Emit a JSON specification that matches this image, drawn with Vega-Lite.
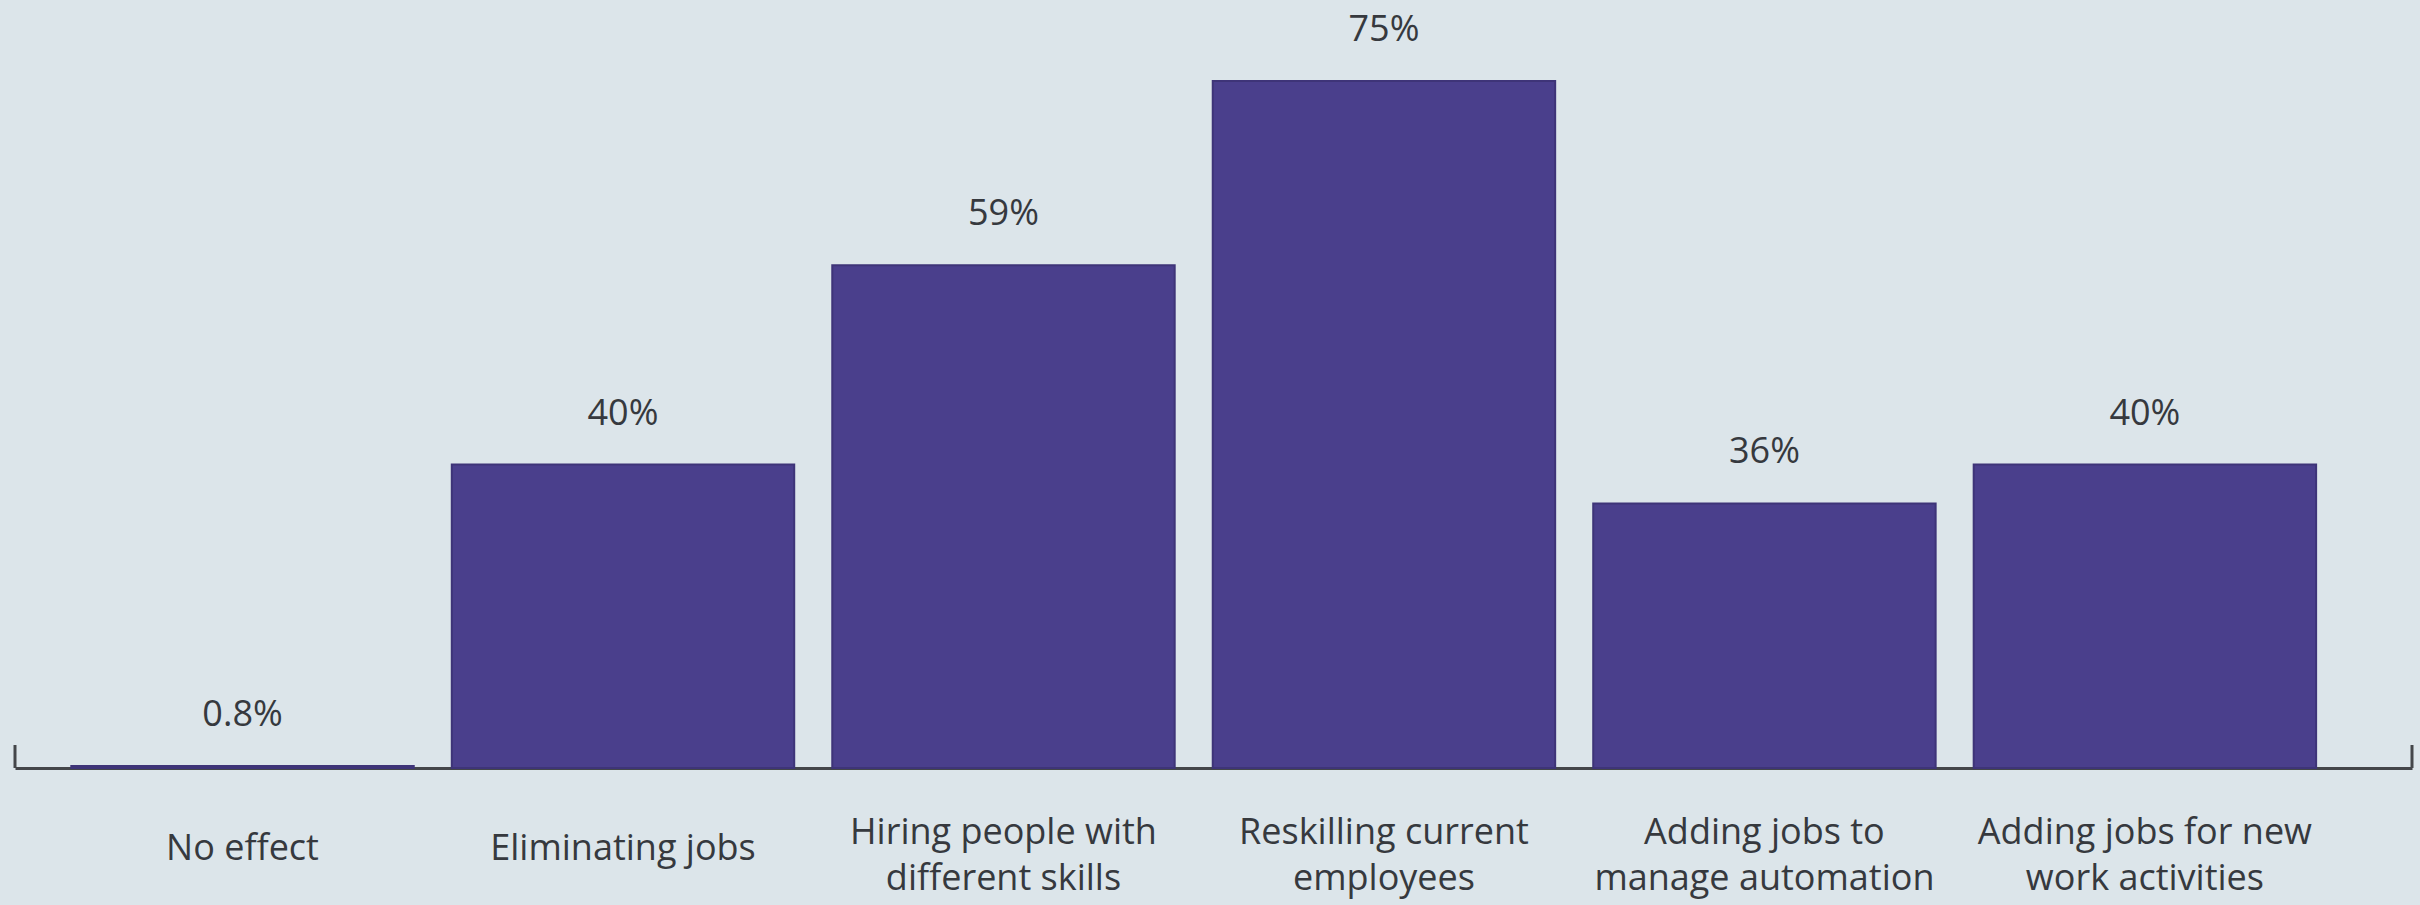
{
  "$schema": "https://vega.github.io/schema/vega-lite/v6.json",
  "width": 2397,
  "height": 747,
  "autosize": {"type": "none"},
  "padding": {"left": 15, "top": 21, "right": 8, "bottom": 137},
  "background": "#dce5ea",
  "config": {"view": {"stroke": null}, "font": "Open Sans"},
  "layer": [
    {
      "data": {
        "values": [
          {"category": "No effect", "value": 0.8, "label": "0.8%"},
          {"category": "Eliminating jobs", "value": 40, "label": "40%"},
          {"category": "Hiring people with|different skills", "value": 59, "label": "59%"},
          {"category": "Reskilling current|employees", "value": 75, "label": "75%"},
          {"category": "Adding jobs to|manage automation", "value": 36, "label": "36%"},
          {"category": "Adding jobs for new|work activities", "value": 40, "label": "40%"}
        ]
      },
      "encoding": {
        "x": {
          "field": "category",
          "type": "nominal",
          "sort": null,
          "scale": {"paddingInner": 0.1, "paddingOuter": 0.2, "align": 0.37},
          "axis": {
            "title": null,
            "labelAngle": 0,
            "labelExpr": "split(datum.label, '|')",
            "labelFontSize": 36,
            "labelColor": "#36393e",
            "labelLimit": 0,
            "labelBaseline": "top",
            "labelPadding": {"condition": {"test": "indexof(datum.label, '|') >= 0", "value": 47}, "value": 63},
            "labelLineHeight": 46,
            "ticks": false,
            "domain": true,
            "domainColor": "#44464a",
            "domainWidth": 3
          }
        },
        "y": {
          "field": "value",
          "type": "quantitative",
          "scale": {"type": "pow", "exponent": 1.3, "domain": [0, 80]},
          "axis": null
        }
      },
      "layer": [
        {"mark": {"type": "bar", "color": "#4a3f8c", "stroke": "#3e3478", "strokeWidth": 2}},
        {
          "mark": {"type": "text", "dy": -40, "baseline": "alphabetic", "fontSize": 36, "color": "#36393e"},
          "encoding": {"text": {"field": "label"}}
        }
      ]
    },
    {
      "data": {"values": [{"edge": 0}, {"edge": 1}]},
      "mark": {"type": "rule", "color": "#44464a", "strokeWidth": 3},
      "encoding": {
        "x": {"field": "edge", "type": "quantitative", "scale": {"domain": [0, 1]}, "axis": null},
        "y": {"datum": 0, "type": "quantitative"},
        "y2": {"datum": 5.5}
      }
    }
  ],
  "resolve": {"scale": {"x": "independent"}}
}
